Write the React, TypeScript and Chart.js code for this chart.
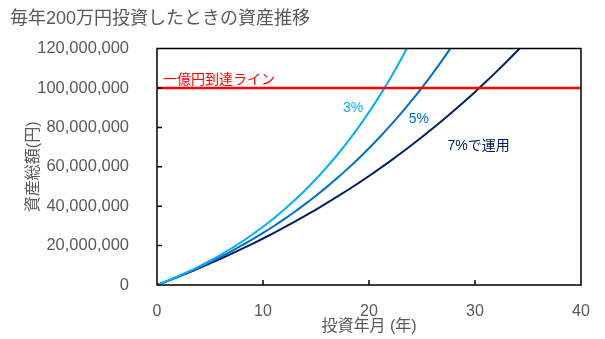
import React, { useEffect, useRef } from "react";
import { Chart, registerables } from "chart.js";

Chart.register(...registerables);

// ---- data (values in millions of yen) ----
const YEARS: number[] = [
  0, 1, 2, 3, 4, 5, 6, 7, 8, 9, 10, 11, 12, 13, 14, 15, 16, 17, 18, 19, 20,
  21, 22, 23, 24, 25, 26, 27, 28, 29, 30, 31, 32, 33, 34, 35,
];
// steepest curve, labelled "3%"
const SERIES_3: number[] = [
  0, 2.14, 4.43, 6.88, 9.5, 12.31, 15.31, 18.52, 21.96, 25.64, 29.57, 33.78,
  38.29, 43.11, 48.26, 53.78, 59.68, 65.99, 72.75, 79.99, 87.73, 96.01, 104.87,
  114.36, 124.51,
];
// middle curve, labelled "5%"
const SERIES_5: number[] = [
  0, 2.1, 4.31, 6.62, 9.05, 11.6, 14.28, 17.1, 20.06, 23.15, 26.41, 29.83,
  33.43, 37.2, 41.16, 45.31, 49.68, 54.26, 59.08, 64.13, 69.44, 75.01, 80.86,
  87.0, 93.45, 100.23, 107.34, 114.81, 122.64,
];
// lowest curve, labelled "7%で運用"
const SERIES_7: number[] = [
  0, 2.06, 4.18, 6.37, 8.62, 10.94, 13.33, 15.79, 18.32, 20.92, 23.61, 26.38,
  29.23, 32.16, 35.19, 38.31, 41.52, 44.83, 48.23, 51.74, 55.35, 59.07, 62.91,
  66.85, 70.92, 75.11, 79.42, 83.86, 88.44, 93.16, 98.01, 103.01, 108.17,
  113.47, 118.94, 124.57,
];
const TARGET_LINE_X: number[] = [0, 40];
const TARGET_VALUE = 100; // millions
const UNIT = 1000000;
const X_MIN = 0;
const X_MAX = 40;
const Y_MAX = 120; // millions
const X_TICK_MARKS: number[] = [10, 20, 30];
const Y_TICK_MARKS: number[] = [20, 40, 60, 80, 100];

const TITLE = "毎年200万円投資したときの資産推移";
const X_TITLE = "投資年月 (年)";
const Y_TITLE = "資産総額(円)";
const TARGET_LABEL = "一億円到達ライン";
const SERIES_LABELS = ["3%", "5%", "7%で運用"];
const LABEL_POS: { x: number; y: number; align: CanvasTextAlign }[] = [
  { x: 18.5, y: 90, align: "center" },
  { x: 24.7, y: 84.3, align: "center" },
  { x: 27.4, y: 70.7, align: "left" },
];

const C3 = "#00B0F0";
const C5 = "#0070C0";
const C7 = "#002060";
const RED = "#FF0000";
const GRAY = "#595959";
const FRAME = "#000000";
const FONT = "'Liberation Sans', Arial, 'Noto Sans CJK JP', sans-serif";

const toPts = (vals: number[]) =>
  vals.map((v, i) => ({ x: YEARS[i], y: v * UNIT }));

const overlay = {
  id: "overlay",
  afterDraw(chart: any) {
    const { ctx, chartArea: a, scales } = chart;
    const xs = scales.x;
    const ys = scales.y;
    ctx.save();
    ctx.strokeStyle = FRAME;
    ctx.lineWidth = 1.5;
    const l = a.left;
    const t = a.top;
    const r = a.right;
    const b = a.bottom;
    ctx.beginPath();
    ctx.rect(l, t, r - l, b - t);
    X_TICK_MARKS.forEach((v) => {
      const px = xs.getPixelForValue(v);
      ctx.moveTo(px, b);
      ctx.lineTo(px, b - 5);
    });
    Y_TICK_MARKS.forEach((v) => {
      const py = ys.getPixelForValue(v * UNIT);
      ctx.moveTo(l, py);
      ctx.lineTo(l + 5, py);
    });
    ctx.stroke();
    ctx.font = `14px ${FONT}`;
    ctx.fillStyle = RED;
    ctx.textAlign = "left";
    ctx.textBaseline = "middle";
    ctx.fillText(
      TARGET_LABEL,
      a.left + 6,
      ys.getPixelForValue(TARGET_VALUE * UNIT) - 8
    );
    const cols = [C3, C5, C7];
    SERIES_LABELS.forEach((s, i) => {
      const p = LABEL_POS[i];
      ctx.fillStyle = cols[i];
      ctx.textAlign = p.align;
      ctx.fillText(s, xs.getPixelForValue(p.x), ys.getPixelForValue(p.y * UNIT));
    });
    ctx.restore();
  },
};

export default function App() {
  const ref = useRef<HTMLCanvasElement | null>(null);
  useEffect(() => {
    if (!ref.current) return;
    const chart = new Chart(ref.current, {
      type: "line",
      data: {
        datasets: [
          {
            label: "target",
            data: TARGET_LINE_X.map((x) => ({ x, y: TARGET_VALUE * UNIT })),
            borderColor: RED,
            borderWidth: 2.5,
            pointRadius: 0,
          },
          {
            label: SERIES_LABELS[0],
            data: toPts(SERIES_3),
            borderColor: C3,
            borderWidth: 2,
            pointRadius: 0,
            cubicInterpolationMode: "monotone",
          },
          {
            label: SERIES_LABELS[1],
            data: toPts(SERIES_5),
            borderColor: C5,
            borderWidth: 2,
            pointRadius: 0,
            cubicInterpolationMode: "monotone",
          },
          {
            label: SERIES_LABELS[2],
            data: toPts(SERIES_7),
            borderColor: C7,
            borderWidth: 2,
            pointRadius: 0,
            cubicInterpolationMode: "monotone",
          },
        ],
      },
      options: {
        responsive: false,
        animation: false,
        layout: { padding: { left: 10, right: 24, top: 0, bottom: 0 } },
        plugins: {
          legend: { display: false },
          tooltip: { enabled: false },
          title: {
            display: true,
            text: TITLE,
            align: "start",
            color: GRAY,
            font: { family: FONT, size: 18, weight: "normal" },
            padding: { top: 8, bottom: 19 },
          },
        },
        scales: {
          x: {
            type: "linear",
            min: X_MIN,
            max: X_MAX,
            grid: { display: false },
            border: { display: false },
            ticks: {
              stepSize: 10,
              color: GRAY,
              padding: 9,
              font: { family: FONT, size: 16 },
              maxRotation: 0,
            },
            title: {
              display: true,
              text: X_TITLE,
              color: GRAY,
              font: { family: FONT, size: 16 },
              padding: { top: 0, bottom: 3 },
            },
            afterFit: (s: any) => {
              s.height = 54;
            },
          },
          y: {
            min: 0,
            max: Y_MAX * UNIT,
            grid: { display: false },
            border: { display: false },
            ticks: {
              stepSize: 20 * UNIT,
              color: GRAY,
              padding: 20,
              font: { family: FONT, size: 16.5 },
              callback: (v: any) => Number(v).toLocaleString("en-US"),
            },
            title: {
              display: true,
              text: Y_TITLE,
              color: GRAY,
              font: { family: FONT, size: 16 },
              padding: { top: 14, bottom: 0 },
            },
            afterFit: (s: any) => {
              s.width = 147;
            },
          },
        },
      },
      plugins: [overlay],
    } as any);
    return () => chart.destroy();
  }, []);
  return (
    <canvas
      ref={ref}
      width={605}
      height={339}
      style={{ position: "absolute", left: 0, top: 0, width: 605, height: 339 }}
    />
  );
}
